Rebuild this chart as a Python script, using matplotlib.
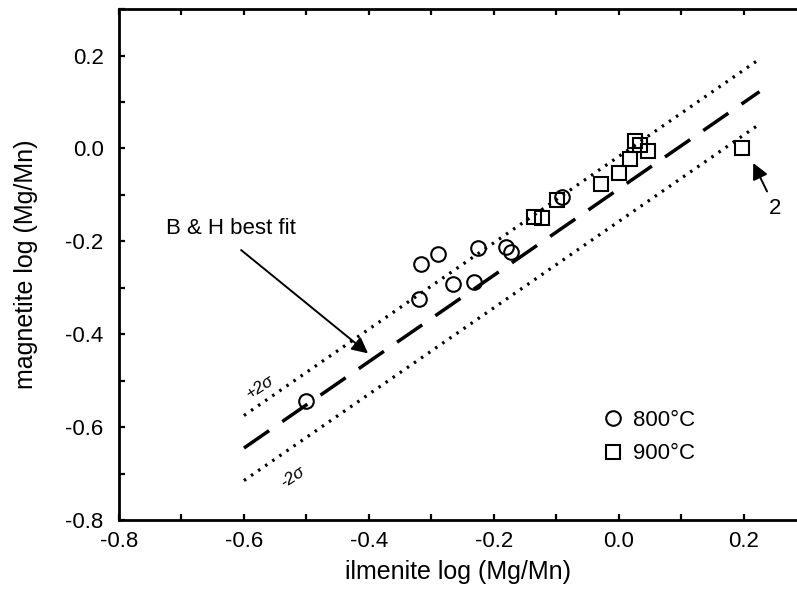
import numpy as np
import matplotlib
matplotlib.use('Agg')
import matplotlib.pyplot as plt
from matplotlib.ticker import MultipleLocator, FormatStrFormatter
from matplotlib.lines import Line2D

plt.rcParams['font.family'] = ['Liberation Sans', 'DejaVu Sans']
plt.rcParams['lines.scale_dashes'] = False

# ---- data ----
ilm_800 = [-0.500, -0.317, -0.290, -0.226, -0.181, -0.173, -0.320, -0.266, -0.232, -0.091]
mag_800 = [-0.544, -0.248, -0.228, -0.215, -0.213, -0.222, -0.325, -0.291, -0.288, -0.105]

ilm_900 = [-0.136, -0.123, -0.099, -0.029, 0.000, 0.018, 0.026, 0.034, 0.046, 0.197]
mag_900 = [-0.148, -0.149, -0.110, -0.077, -0.052, -0.022, 0.015, 0.007, -0.006, 0.002]

# B & H best fit and +/- 2 sigma envelope
fit_x = [-0.60, 0.225]
fit_slope = 0.93
fit_icpt = -0.087
two_sigma = 0.07

fit_x = np.array(fit_x)
fit_y = fit_slope * fit_x + fit_icpt

fig = plt.figure(figsize=(7.97, 5.90), dpi=100)
ax = fig.add_axes([0.1493, 0.1186, 0.8507, 0.866])

ax.plot(fit_x, fit_y, color='black', lw=2.5, dashes=(22, 11.5))
ax.plot(fit_x, fit_y + two_sigma, color='black', lw=2.3, dashes=(1.8, 4.4))
ax.plot(fit_x, fit_y - two_sigma, color='black', lw=2.3, dashes=(1.8, 4.4))

ax.plot(ilm_800, mag_800, 'o', ms=10.5, mfc='none', mec='black', mew=1.5)
ax.plot(ilm_900, mag_900, 's', ms=10.5, mfc='none', mec='black', mew=1.5)

# annotations
ax.text(-0.621, -0.172, 'B & H best fit', fontsize=16, ha='center', va='center')
ax.annotate('', xy=(-0.398, -0.445), xytext=(-0.608, -0.215),
            arrowprops=dict(arrowstyle='-|>', lw=1.4, color='black', mutation_scale=24))
ax.text(0.25, -0.13, '2', fontsize=16, ha='center', va='center')
ax.annotate('', xy=(0.213, -0.026), xytext=(0.239, -0.098),
            arrowprops=dict(arrowstyle='-|>', lw=1.4, color='black', mutation_scale=24))

ang = 33
ax.text(-0.574, -0.514, '+2σ', fontsize=12.5, style='italic', rotation=ang,
        ha='center', va='center')
ax.text(-0.523, -0.707, '-2σ', fontsize=12.5, style='italic', rotation=ang,
        ha='center', va='center')

# legend
handles = [Line2D([], [], ls='none', marker='o', ms=10.5, mfc='none', mec='black', mew=1.5),
           Line2D([], [], ls='none', marker='s', ms=10.5, mfc='none', mec='black', mew=1.5)]
ax.legend(handles, ['800°C', '900°C'], frameon=False, fontsize=16, loc='upper left',
          bbox_to_anchor=(0.715, 0.215), borderaxespad=0, borderpad=0,
          handlelength=0.8, handletextpad=0.5, labelspacing=0.55)

ax.set_xlim(-0.8, 0.285)
ax.set_ylim(-0.8, 0.3)
ax.xaxis.set_major_locator(MultipleLocator(0.2))
ax.xaxis.set_minor_locator(MultipleLocator(0.1))
ax.yaxis.set_major_locator(MultipleLocator(0.2))
ax.yaxis.set_minor_locator(MultipleLocator(0.1))
ax.xaxis.set_major_formatter(FormatStrFormatter('%.1f'))
ax.yaxis.set_major_formatter(FormatStrFormatter('%.1f'))

for s in ['left', 'bottom', 'top']:
    ax.spines[s].set_linewidth(2)
ax.spines['right'].set_visible(False)
ax.tick_params(which='both', direction='in', top=True, right=False, width=1.6, length=4.5)
ax.tick_params(axis='x', which='major', labelsize=16, pad=8)
ax.tick_params(axis='y', which='major', labelsize=16, pad=11)

ax.set_xlabel('ilmenite log (Mg/Mn)', fontsize=18, labelpad=6)
ax.set_ylabel('magnetite log (Mg/Mn)', fontsize=18, labelpad=20)

fig.savefig('out.png', dpi=100)
